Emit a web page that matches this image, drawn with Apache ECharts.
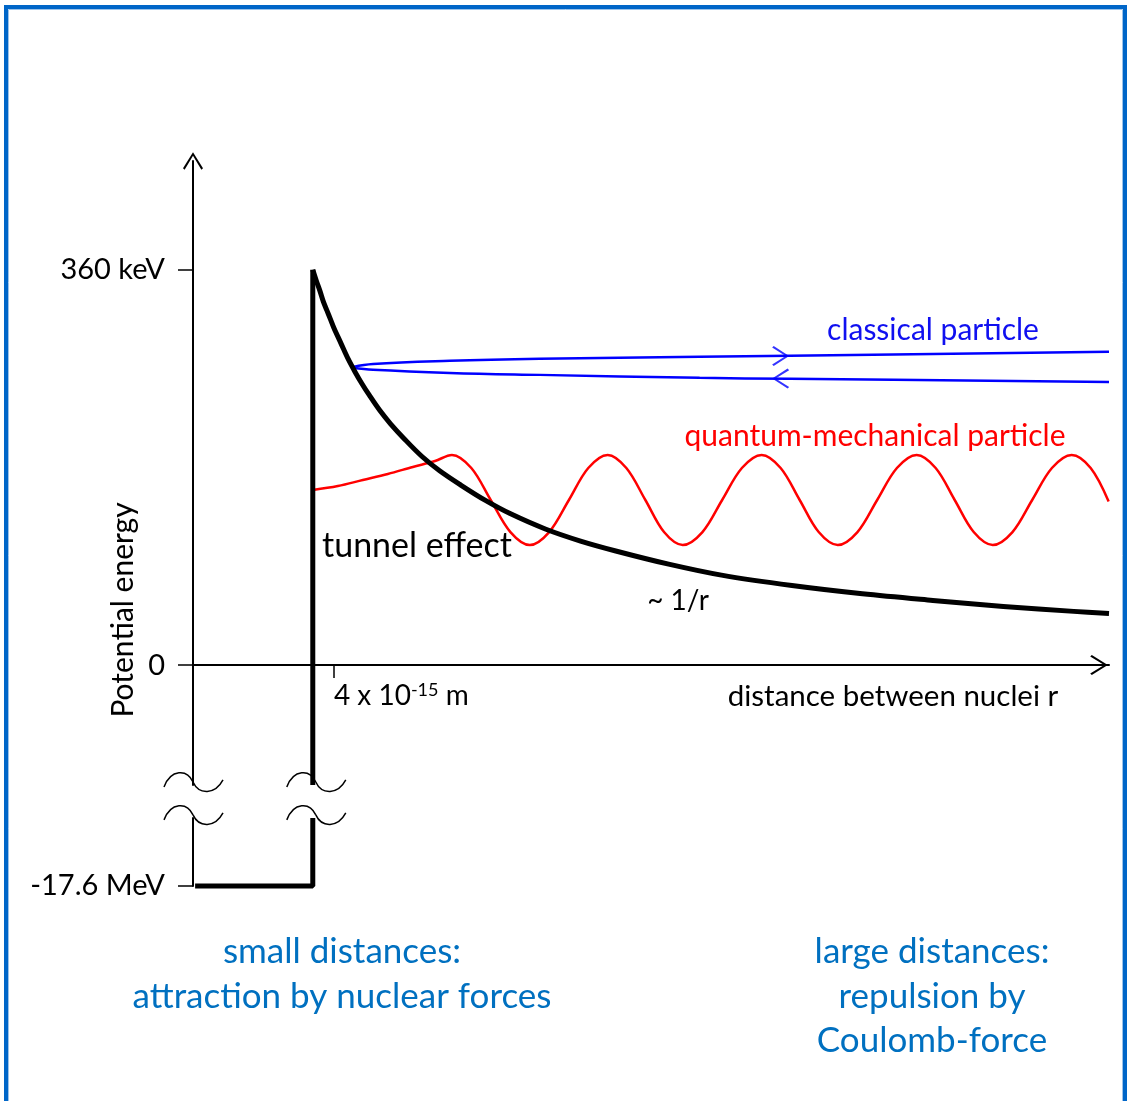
<!DOCTYPE html>
<html>
<head>
<meta charset="utf-8">
<style>
  html, body { margin: 0; padding: 0; background: #fff; }
  #chart { width: 1128px; height: 1101px; }
</style>
<script src="https://cdn.jsdelivr.net/npm/echarts@6/dist/echarts.min.js"></script>
</head>
<body>
<div id="chart"></div>
<script>
// Distance r in fm (1e-15 m), potential energy in keV.

// Coulomb barrier ~1/r, starting at the edge of the nuclear well
const coulombCurve = [
  [3.40, 360], [3.5, 350], [3.6, 341], [3.7, 331], [3.8, 323], [3.9, 315],
  [4.0, 307], [4.2, 293], [4.4, 279], [4.6, 267], [4.8, 256], [5.0, 246],
  [5.3, 232], [5.6, 220], [6.0, 206], [6.5, 190], [7.0, 177], [7.6, 164],
  [8.3, 150], [9.0, 138], [10.0, 124], [11.0, 113], [12.0, 104], [13.5, 92],
  [15, 82], [17, 72.5], [19, 65], [21, 59], [23, 53.5], [25, 49], [26, 47]
];

// Nuclear well: wall and bottom (the wall is interrupted at the axis break)
const wallUpper = [[3.40, 360], [3.40, -109]];
const wellLower = [[3.40, -17538], [3.40, -17600], [0.06, -17600]];

// Classical particle: incoming and reflected paths
const classicalIn = [
  [4.54, 271.6], [5.11, 274.3], [7.29, 277.1], [9.84, 278.9],
  [14.38, 280.7], [16.94, 281.6], [26.0, 285.3]
];
const classicalOut = [
  [4.54, 270.7], [5.11, 268.9], [7.29, 266.1], [9.84, 264.3],
  [14.38, 261.6], [16.94, 260.7], [26.0, 257.9]
];
// Direction arrows on the classical paths: [r, E, rotation in degrees]
const classicalArrows = [[16.68, 281.5, -90], [16.68, 260.9, 90]];

// Quantum-mechanical particle: wave tunnelling through the barrier
const quantumWave = [
  [3.40, 159.5], [4.11, 163.1], [4.82, 168.6], [5.53, 174.1], [6.24, 180.5], [6.87, 185.9],
  [7.35, 191.4], [7.90, 179.5], [8.45, 150.4], [9.01, 121.2], [9.56, 109.4],
  [10.11, 121.2], [10.67, 150.4], [11.22, 179.5], [11.77, 191.4],
  [12.30, 179.5], [12.84, 150.4], [13.37, 121.2], [13.90, 109.4],
  [14.46, 121.2], [15.02, 150.4], [15.58, 179.5], [16.14, 191.4],
  [16.68, 179.5], [17.22, 150.4], [17.76, 121.2], [18.30, 109.4],
  [18.86, 121.2], [19.42, 150.4], [19.98, 179.5], [20.54, 191.4],
  [21.08, 179.5], [21.62, 150.4], [22.16, 121.2], [22.70, 109.4],
  [23.26, 121.2], [23.82, 150.4], [24.38, 179.5], [24.94, 191.4],
  [25.48, 179.5], [25.99, 149.0]
];

// Break markers on the energy axis and the well wall: [r, upper edge, lower edge]
const breakMarks = [[0, -109, -17538], [3.40, -109, -17538]];

// Axis ticks
const yTickValues = [-17600, 0, 360];
const yTickLabels = ['-17.6 MeV', '0', '360 keV'];
const xTickValues = [4];

const FONT = 'Lato';
const BLUE_TEXT = '#0070C0';
const chevron = 'path://M10,0 L20,16 L18.4,17.6 L10,3.6 L1.6,17.6 L0,16 Z';

const chart = echarts.init(document.getElementById('chart'), null, { renderer: 'canvas' });

function waveMark(cx, cy) {
  const s = { fill: null, stroke: '#000', lineWidth: 1.5 };
  return [
    { type: 'bezierCurve', shape: { x1: cx - 29, y1: cy + 5, cpx1: cx - 22, cpy1: cy - 13, cpx2: cx - 6, cpy2: cy - 13, x2: cx, y2: cy }, style: s },
    { type: 'bezierCurve', shape: { x1: cx, y1: cy, cpx1: cx + 6, cpy1: cy + 13, cpx2: cx + 22, cpy2: cy + 13, x2: cx + 30, y2: cy - 2 }, style: s }
  ];
}

function label(text, x, y, size, color, extra) {
  return Object.assign({
    type: 'text', x: x, y: y, silent: true,
    style: { text: text, fontFamily: FONT, fontSize: size, fill: color, align: 'center', verticalAlign: 'middle' }
  }, extra || {});
}

const option = {
  animation: false,
  backgroundColor: '#fff',
  grid: { left: 193, right: 19, top: 161, bottom: 215, containLabel: false, outerBoundsMode: 'none' },
  xAxis: {
    type: 'value', min: 0, max: 26,
    position: 'bottom',
    // the distance axis sits at E = 0, above the broken part of the energy axis
    offset: -221,
    axisLine: {
      onZero: false,
      symbol: ['none', chevron], symbolSize: [20, 18], symbolOffset: [0, -10],
      lineStyle: { color: '#000', width: 2 }
    },
    axisTick: { show: true, customValues: xTickValues, length: 13, lineStyle: { color: '#000', width: 1.5 } },
    axisLabel: {
      customValues: xTickValues,
      margin: 16,
      align: 'left',
      formatter: v => '{a|' + v + ' x 10}{s|-15}{a| m}',
      rich: {
        a: { fontFamily: FONT, fontSize: 28, color: '#000', lineHeight: 30 },
        s: { fontFamily: FONT, fontSize: 18, color: '#000', verticalAlign: 'top', lineHeight: 30 }
      }
    },
    splitLine: { show: false }
  },
  yAxis: {
    type: 'value', min: -17600, max: 459,
    breaks: [{ start: -17538, end: -109, gap: 30 }],
    breakArea: { show: false, expandOnClick: false, itemStyle: { opacity: 0 } },
    axisLine: {
      show: true,
      symbol: ['none', chevron], symbolSize: [20, 18],
      lineStyle: { color: '#000', width: 2 }
    },
    axisTick: { show: true, customValues: yTickValues, length: 15, lineStyle: { color: '#000', width: 1.5 } },
    axisLabel: {
      customValues: yTickValues,
      margin: 28,
      fontFamily: FONT, fontSize: 29, color: '#000',
      formatter: v => yTickLabels[yTickValues.indexOf(v)]
    },
    splitLine: { show: false }
  },
  graphic: [
    { type: 'rect', shape: { x: 6, y: 7, width: 1119, height: 1120 }, style: { fill: null, stroke: '#0066C8', lineWidth: 4 }, silent: true },
    { type: 'rect', shape: { x: 8.5, y: 9.5, width: 1114, height: 1115 }, style: { fill: null, stroke: '#9cc3ea', lineWidth: 1 }, silent: true },
    label('Potential energy', 123, 610, 30, '#000', { rotation: Math.PI / 2 }),
    label('tunnel effect', 417, 546, 34, '#000'),
    label('~ 1/r', 678, 601, 28, '#000'),
    label('classical particle', 933, 330, 30, '#1010F0'),
    label('quantum-mechanical particle', 875, 436, 30, '#FF0000'),
    label('distance between nuclei r', 893, 696, 29.5, '#000'),
    label('small distances:', 342, 952, 35, BLUE_TEXT),
    label('attraction by nuclear forces', 342, 997, 35, BLUE_TEXT),
    label('large distances:', 932, 952, 35, BLUE_TEXT),
    label('repulsion by', 932, 997, 35, BLUE_TEXT),
    label('Coulomb-force', 932, 1041, 35, BLUE_TEXT)
  ],
  series: [
    {
      name: 'classical in', type: 'line', data: classicalIn, smooth: 0.4, symbol: 'none', clip: false,
      lineStyle: { color: '#0000FF', width: 2.5 }, z: 3
    },
    {
      name: 'classical out', type: 'line', data: classicalOut, smooth: 0.4, symbol: 'none', clip: false,
      lineStyle: { color: '#0000FF', width: 2.5 }, z: 3
    },
    {
      name: 'direction', type: 'scatter', data: classicalArrows, clip: false,
      symbol: chevron, symbolSize: [20, 17],
      symbolRotate: v => v[2],
      itemStyle: { color: '#0000FF' }, z: 4
    },
    {
      name: 'quantum wave', type: 'line', data: quantumWave, smooth: 0.34, symbol: 'none', clip: false,
      lineStyle: { color: '#FF0000', width: 2.5, join: 'round' }, z: 3
    },
    {
      name: 'Coulomb barrier', type: 'line', data: coulombCurve, smooth: 0.34,
      symbol: 'none', clip: false, lineStyle: { color: '#000', width: 5, join: 'round' }, z: 5
    },
    {
      name: 'well wall', type: 'line', data: wallUpper, symbol: 'none', clip: false,
      lineStyle: { color: '#000', width: 5 }, z: 5
    },
    {
      name: 'well bottom', type: 'line', data: wellLower, symbol: 'none', clip: false,
      lineStyle: { color: '#000', width: 5 }, z: 5
    },
    {
      name: 'axis break', type: 'custom', data: breakMarks, clip: false, z: 6,
      encode: { x: 0, y: [1, 2] },
      renderItem: function (params, api) {
        const top = api.coord([api.value(0), api.value(1)]);
        const bot = api.coord([api.value(0), api.value(2)]);
        const cx = top[0] + (api.value(0) > 0 ? 3 : 0);
        return {
          type: 'group',
          children: [
            { type: 'rect', shape: { x: top[0] - 7, y: top[1] + 2, width: 14, height: bot[1] - top[1] - 4 }, style: { fill: '#fff' } }
          ].concat(waveMark(cx, top[1] - 3), waveMark(cx, bot[1] - 3))
        };
      }
    }
  ]
};

chart.setOption(option);
</script>
</body>
</html>
